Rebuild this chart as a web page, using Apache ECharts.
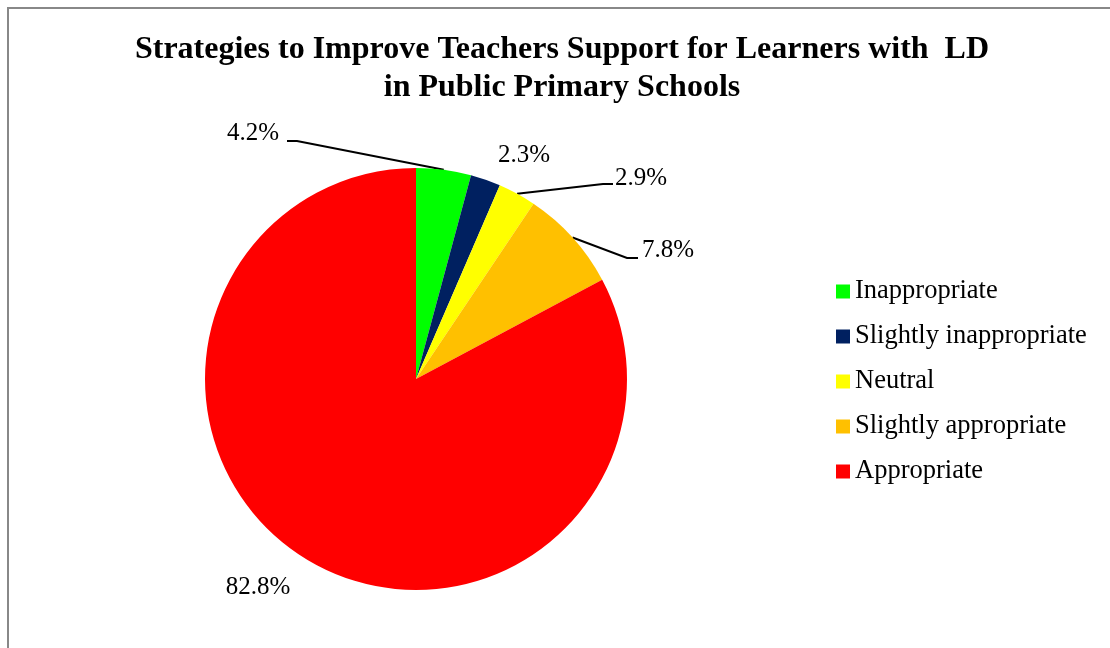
<!DOCTYPE html>
<html>
<head>
<meta charset="utf-8">
<script src="https://cdn.jsdelivr.net/npm/echarts@6/dist/echarts.min.js"></script>
<style>
  html, body { margin: 0; padding: 0; background: #fff; }
  #chart { width: 1110px; height: 648px; }
</style>
</head>
<body>
<div id="chart"></div>
<script>
const categories = ['Inappropriate', 'Slightly inappropriate', 'Neutral', 'Slightly appropriate', 'Appropriate'];
const values = [4.2, 2.3, 2.9, 7.8, 82.8];
const colors = ['#00FF00', '#002060', '#FFFF00', '#FFC000', '#FF0000'];
const titleText = 'Strategies to Improve Teachers Support for Learners with  LD\nin Public Primary Schools';

// label placement (text anchor, align) and leader line bend/end points
const labelPlace = [
  { x: 279, y: 133, align: 'right', line: [[297, 141], [287, 141]] },
  { x: 524, y: 155, align: 'center', line: null },
  { x: 615, y: 178, align: 'left', line: [[603, 184], [613, 184]] },
  { x: 642, y: 250, align: 'left', line: [[627, 258], [638, 258]] },
  { x: 258, y: 587, align: 'center', line: null }
];

const FONT = '"Liberation Serif", "Times New Roman", serif';
const chart = echarts.init(document.getElementById('chart'));

chart.setOption({
  animation: false,
  backgroundColor: '#ffffff',
  title: {
    text: titleText,
    left: 562,
    textAlign: 'center',
    top: 31,
    padding: 0,
    textStyle: {
      fontFamily: FONT,
      fontWeight: 'bold',
      fontSize: 32,
      lineHeight: 38,
      color: '#000'
    }
  },
  legend: {
    orient: 'vertical',
    left: 831,
    top: 273,
    itemWidth: 14,
    itemHeight: 14,
    itemGap: 18,
    icon: 'rect',
    data: categories,
    textStyle: { fontFamily: FONT, fontSize: 26.5, color: '#000' }
  },
  graphic: [{
    type: 'rect',
    silent: true,
    shape: { x: 8, y: 8, width: 1300, height: 900 },
    style: { fill: null, stroke: '#888888', lineWidth: 2 }
  }],
  series: [{
    type: 'pie',
    center: [416, 379],
    radius: [0, 211],
    startAngle: 90,
    clockwise: true,
    avoidLabelOverlap: false,
    itemStyle: { borderWidth: 0 },
    label: {
      show: true,
      position: 'outside',
      formatter: '{c}%',
      fontFamily: FONT,
      fontSize: 25,
      color: '#000'
    },
    labelLine: {
      show: true,
      length: 10,
      length2: 10,
      lineStyle: { color: '#000', width: 2 }
    },
    labelLayout: function (params) {
      const p = labelPlace[params.dataIndex];
      const out = { x: p.x, y: p.y, align: p.align, verticalAlign: 'middle' };
      if (p.line && params.labelLinePoints) {
        out.labelLinePoints = [params.labelLinePoints[0], p.line[0], p.line[1]];
      }
      return out;
    },
    data: categories.map(function (c, i) {
      const d = { name: c, value: values[i], itemStyle: { color: colors[i] } };
      if (!labelPlace[i].line) d.labelLine = { show: false };
      return d;
    })
  }]
});
</script>
</body>
</html>
